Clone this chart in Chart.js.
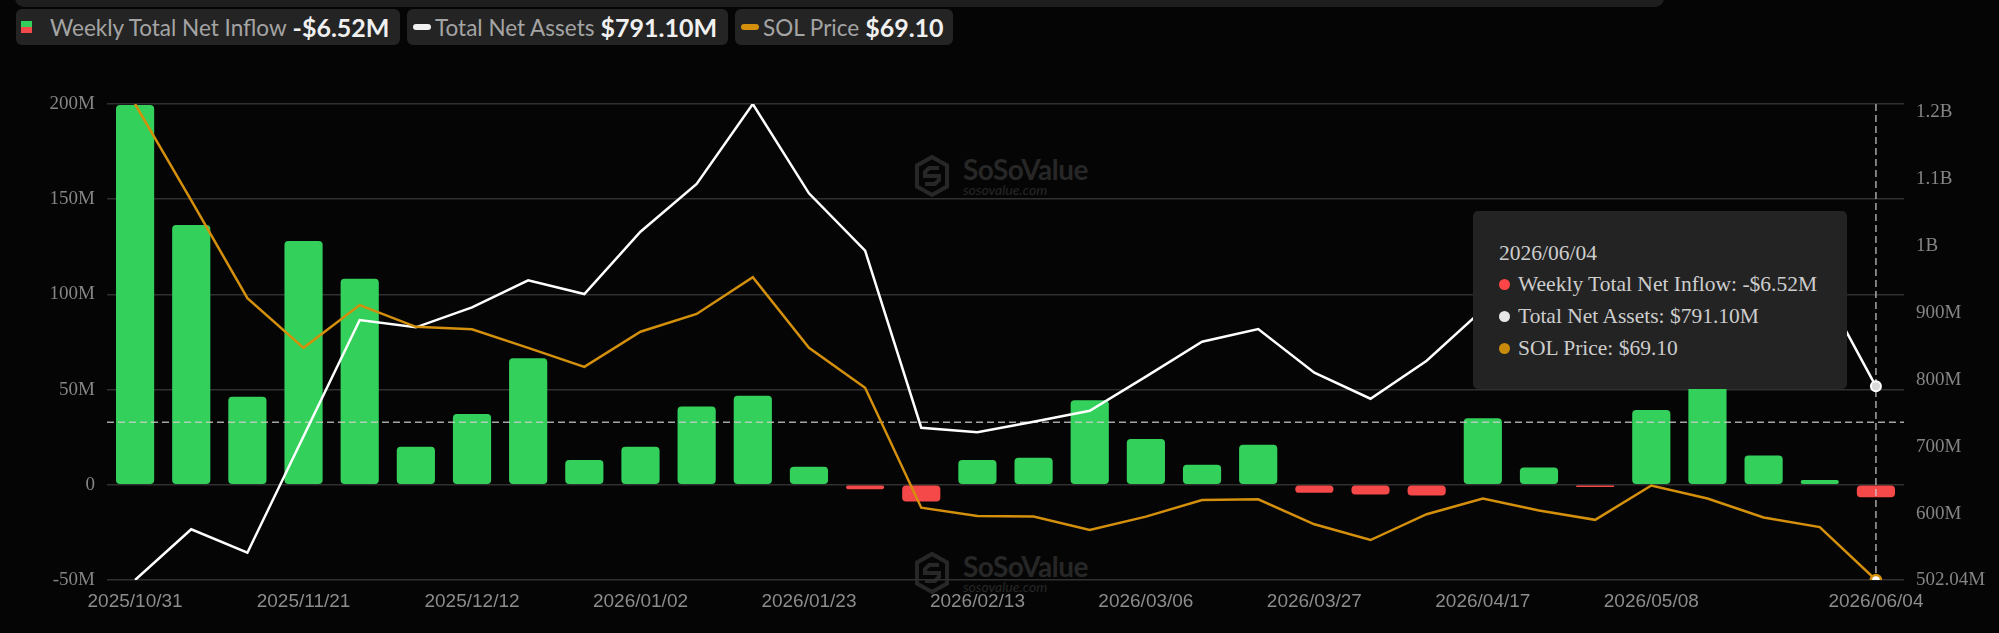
<!DOCTYPE html>
<html>
<head>
<meta charset="utf-8">
<script src="https://cdn.jsdelivr.net/npm/chart.js@4.4.1/dist/chart.umd.min.js"></script>
<style>
  html, body { margin: 0; padding: 0; background: #050505; }
  #wrap { position: relative; width: 1999px; height: 633px; overflow: hidden; background: #050505; }
  #topbar { position: absolute; left: 15px; top: -10px; width: 1649px; height: 17px; background: #1e1e1e; border-radius: 0 0 9px 9px; }
  .pill { position: absolute; top: 9px; height: 36px; background: #242424; border-radius: 6px;
          display: flex; align-items: center; font-family: Lato, sans-serif; white-space: nowrap; }
  .pill .lbl { color: #a4a4a4; font-size: 22.5px; }
  .pill .val { color: #f0f0f0; font-size: 25px; font-weight: 700; margin-left: 6px; }
  .ico-split { width: 11px; height: 12px; margin: 0 18px 0 5px; background: linear-gradient(#33d15c 50%, #f24a4a 50%); }
  .ico-bar { width: 18px; height: 6px; border-radius: 3px; margin: 0 4px 0 6px; }
  .wm { position: absolute; left: 914px; width: 190px; height: 45px; }
  .wm svg { position: absolute; left: 0; top: 0; }
  .wm .big { position: absolute; left: 49px; top: -3px; font: 700 28px Lato, sans-serif; color: #272727; letter-spacing: -0.5px; }
  .wm .small { position: absolute; left: 49px; top: 26px; font: italic 14px Lato, sans-serif; color: #272727; }
  canvas { position: absolute; left: 0; top: 0; }
  #tip { position: absolute; left: 1473px; top: 211px; width: 374px; height: 178px; background: #232323;
         border-radius: 5px; font-family: 'Liberation Serif', serif; font-size: 21.5px; color: #cdcdcd; }
  #tip .row { position: absolute; left: 0; height: 32px; line-height: 32px; white-space: nowrap; }
  #tip .row i { position: absolute; left: 26px; top: 10.5px; width: 11px; height: 11px; border-radius: 50%; }
  #tip .row span { position: absolute; left: 45px; }
</style>
</head>
<body>
<div id="wrap">
  <div id="topbar"></div>
  <div class="pill" style="left:16px;width:384px"><span class="ico-split"></span><span class="lbl">Weekly Total Net Inflow</span><span class="val" id="v-inflow"></span></div>
  <div class="pill" style="left:407px;width:321px"><span class="ico-bar" style="background:#f2f2f2"></span><span class="lbl">Total Net Assets</span><span class="val" id="v-assets"></span></div>
  <div class="pill" style="left:735px;width:218px"><span class="ico-bar" style="background:#d4900c"></span><span class="lbl">SOL Price</span><span class="val" id="v-sol"></span></div>

  <div class="wm" style="top:155px"></div>
  <div class="wm" style="top:552px"></div>

  <canvas id="chart" width="1999" height="633"></canvas>

  <div id="tip">
    <div class="row" style="top:26px;left:26px" id="tip-date"></div>
    <div class="row" style="top:57px"><i style="background:#ff4545"></i><span id="tip-inflow"></span></div>
    <div class="row" style="top:89px"><i style="background:#e6e6e6"></i><span id="tip-assets"></span></div>
    <div class="row" style="top:121px"><i style="background:#c98a0c"></i><span id="tip-sol"></span></div>
  </div>
</div>

<script>
// weekly dates
const labels = [
  '2025/10/31', '2025/11/07', '2025/11/14', '2025/11/21', '2025/11/28', '2025/12/05', '2025/12/12', '2025/12/19',
  '2025/12/26', '2026/01/02', '2026/01/09', '2026/01/16', '2026/01/23', '2026/01/30', '2026/02/06', '2026/02/13',
  '2026/02/20', '2026/02/27', '2026/03/06', '2026/03/13', '2026/03/20', '2026/03/27', '2026/04/03', '2026/04/10',
  '2026/04/17', '2026/04/24', '2026/05/01', '2026/05/08', '2026/05/15', '2026/05/22', '2026/05/29', '2026/06/04'
];
// weekly total net inflow, $M
const inflowM = [
  199.5, 136.5, 46.3, 128.1, 108.2, 20.0, 37.2, 66.5, 13.0, 20.0, 41.1, 46.8, 9.5, -2.3, -8.8, 13.0,
  14.2, 44.4, 24.0, 10.5, 21.1, -4.2, -5.1, -5.6, 34.9, 9.1, -1.2, 39.3, 58.0, 15.4, 2.5, -6.52
];
// total net assets, $M
const assetsM = [
  502.04, 577.7, 542.8, 716.5, 890.1, 879.2, 909.0, 949.3, 928.9, 1021.9, 1093.1, 1212.5, 1079.2, 993.5, 729.3, 722.5,
  738.3, 754.7, 805.5, 857.7, 876.7, 811.4, 772.6, 829.4, 905.6, 884, 859, 985, 1009, 971, 946.2, 791.10
];
// SOL price, $
const solPrice = [
  187.0, 163.1, 138.9, 126.6, 137.2, 131.8, 131.2, 126.6, 121.9, 130.6, 135.0, 144.1, 126.6, 116.7, 87.0, 84.96,
  84.8, 81.5, 84.8, 88.9, 89.1, 82.9, 79.0, 85.4, 89.3, 86.3, 84.0, 92.5, 89.3, 84.6, 82.2, 69.10
];
const xTickIdx = [0, 3, 6, 9, 12, 15, 18, 21, 24, 27, 31];
const leftTicks = [-50, 0, 50, 100, 150, 200];
const rightTicks = [502.04, 600, 700, 800, 900, 1000, 1100, 1200];

// hovered point (tooltip + crosshair)
const hoverIndex = 31;
const crosshairInflowM = 32.8;

const GREEN = '#33d15c';
const RED = '#f54848';
const ORANGE = '#d4900c';

function fmtMoneyM(v) {
  return (v < 0 ? '-' : '') + '$' + Math.abs(v).toFixed(2) + 'M';
}
function fmtAxisM(v) {
  if (v === 0) return '0';
  if (Math.abs(v) >= 1000) return (v / 1000) + 'B';
  return (Number.isInteger(v) ? v : v.toFixed(2)) + 'M';
}

const last = labels.length - 1;
document.getElementById('v-inflow').textContent = fmtMoneyM(inflowM[last]);
document.getElementById('v-assets').textContent = fmtMoneyM(assetsM[last]);
document.getElementById('v-sol').textContent = '$' + solPrice[last].toFixed(2);
document.getElementById('tip-date').textContent = labels[hoverIndex];
document.getElementById('tip-inflow').textContent = 'Weekly Total Net Inflow: ' + fmtMoneyM(inflowM[hoverIndex]);
document.getElementById('tip-assets').textContent = 'Total Net Assets: ' + fmtMoneyM(assetsM[hoverIndex]);
document.getElementById('tip-sol').textContent = 'SOL Price: $' + solPrice[hoverIndex].toFixed(2);

// watermark logo
const logo = `<svg width="36" height="42" viewBox="0 0 36 42">
  <polygon points="18,2 33,10.5 33,31.5 18,40 3,31.5 3,10.5" fill="none" stroke="#272727" stroke-width="4"/>
  <polyline points="25,13 15,13 11,17 11,21 25,21 25,25 21,29 11,29" fill="none" stroke="#272727" stroke-width="4"/>
</svg><div class="big">SoSoValue</div><div class="small">sosovalue.com</div>`;
document.querySelectorAll('.wm').forEach(el => { el.innerHTML = logo; });

// dashed crosshair drawn right after the bars
const crosshair = {
  id: 'crosshair',
  afterDatasetDraw(chart, args) {
    if (args.meta.type !== 'bar') return;
    const { ctx, chartArea: a, scales } = chart;
    const x = scales.x.getPixelForValue(hoverIndex);
    const y = scales.y.getPixelForValue(crosshairInflowM);
    ctx.save();
    ctx.lineWidth = 1.5;
    ctx.setLineDash([7, 4]);
    ctx.strokeStyle = 'rgba(205,205,205,0.8)';
    ctx.beginPath();
    ctx.moveTo(a.left, y); ctx.lineTo(a.right, y);
    ctx.moveTo(x, a.top); ctx.lineTo(x, a.bottom);
    ctx.stroke();
    ctx.restore();
  }
};

const markerRadius = ctx => (ctx.dataIndex === hoverIndex ? 5 : 0);

new Chart(document.getElementById('chart'), {
  data: {
    labels,
    datasets: [
      {
        type: 'bar', label: 'Weekly Total Net Inflow', data: inflowM, yAxisID: 'y', order: 3,
        backgroundColor: inflowM.map(v => (v >= 0 ? GREEN : RED)),
        borderRadius: 4, borderSkipped: false,
        categoryPercentage: 0.8, barPercentage: 0.85,
      },
      {
        type: 'line', label: 'Total Net Assets', data: assetsM, yAxisID: 'y1', order: 2,
        borderColor: '#ffffff', borderWidth: 2.5, tension: 0,
        pointRadius: markerRadius, pointBackgroundColor: '#d9d9d9', pointBorderColor: '#ffffff', pointBorderWidth: 2,
      },
      {
        type: 'line', label: 'SOL Price', data: solPrice, yAxisID: 'y2', order: 1,
        borderColor: ORANGE, borderWidth: 2.5, tension: 0,
        pointRadius: markerRadius, pointBackgroundColor: '#ffffff', pointBorderColor: ORANGE, pointBorderWidth: 2.5,
      },
    ]
  },
  options: {
    responsive: false,
    animation: false,
    events: [],
    devicePixelRatio: 1,
    layout: { padding: { top: 104, left: 0, right: 0, bottom: 0 } },
    plugins: { legend: { display: false }, tooltip: { enabled: false } },
    scales: {
      x: {
        offset: true,
        grid: { display: false, drawTicks: false },
        border: { display: false },
        afterFit: s => { s.height = 53; },
        ticks: {
          autoSkip: false, maxRotation: 0, padding: 10,
          color: '#8c8c8c', font: { family: "'Liberation Sans', Arial, sans-serif", size: 19 },
          callback: (v, i) => (xTickIdx.includes(i) ? labels[i] : ''),
        },
      },
      y: {
        position: 'left', min: leftTicks[0], max: leftTicks[leftTicks.length - 1],
        afterFit: s => { s.width = 107; },
        afterBuildTicks: s => { s.ticks = leftTicks.map(v => ({ value: v })); },
        grid: { color: '#303030', lineWidth: 1.5, drawTicks: false },
        border: { display: false },
        ticks: {
          padding: 12, color: '#858585', font: { family: "'Liberation Serif', serif", size: 19 },
          callback: v => fmtAxisM(v),
        },
      },
      y1: {
        position: 'right', min: Math.min(...assetsM), max: Math.max(...assetsM),
        afterFit: s => { s.width = 95; },
        afterBuildTicks: s => { s.ticks = rightTicks.map(v => ({ value: v })); },
        grid: { display: false, drawTicks: false },
        border: { display: false },
        ticks: {
          padding: 12, color: '#858585', font: { family: "'Liberation Serif', serif", size: 19 },
          callback: v => fmtAxisM(v),
        },
      },
      y2: {
        display: false, min: Math.min(...solPrice), max: Math.max(...solPrice),
      },
    },
  },
  plugins: [crosshair],
});
</script>
</body>
</html>
